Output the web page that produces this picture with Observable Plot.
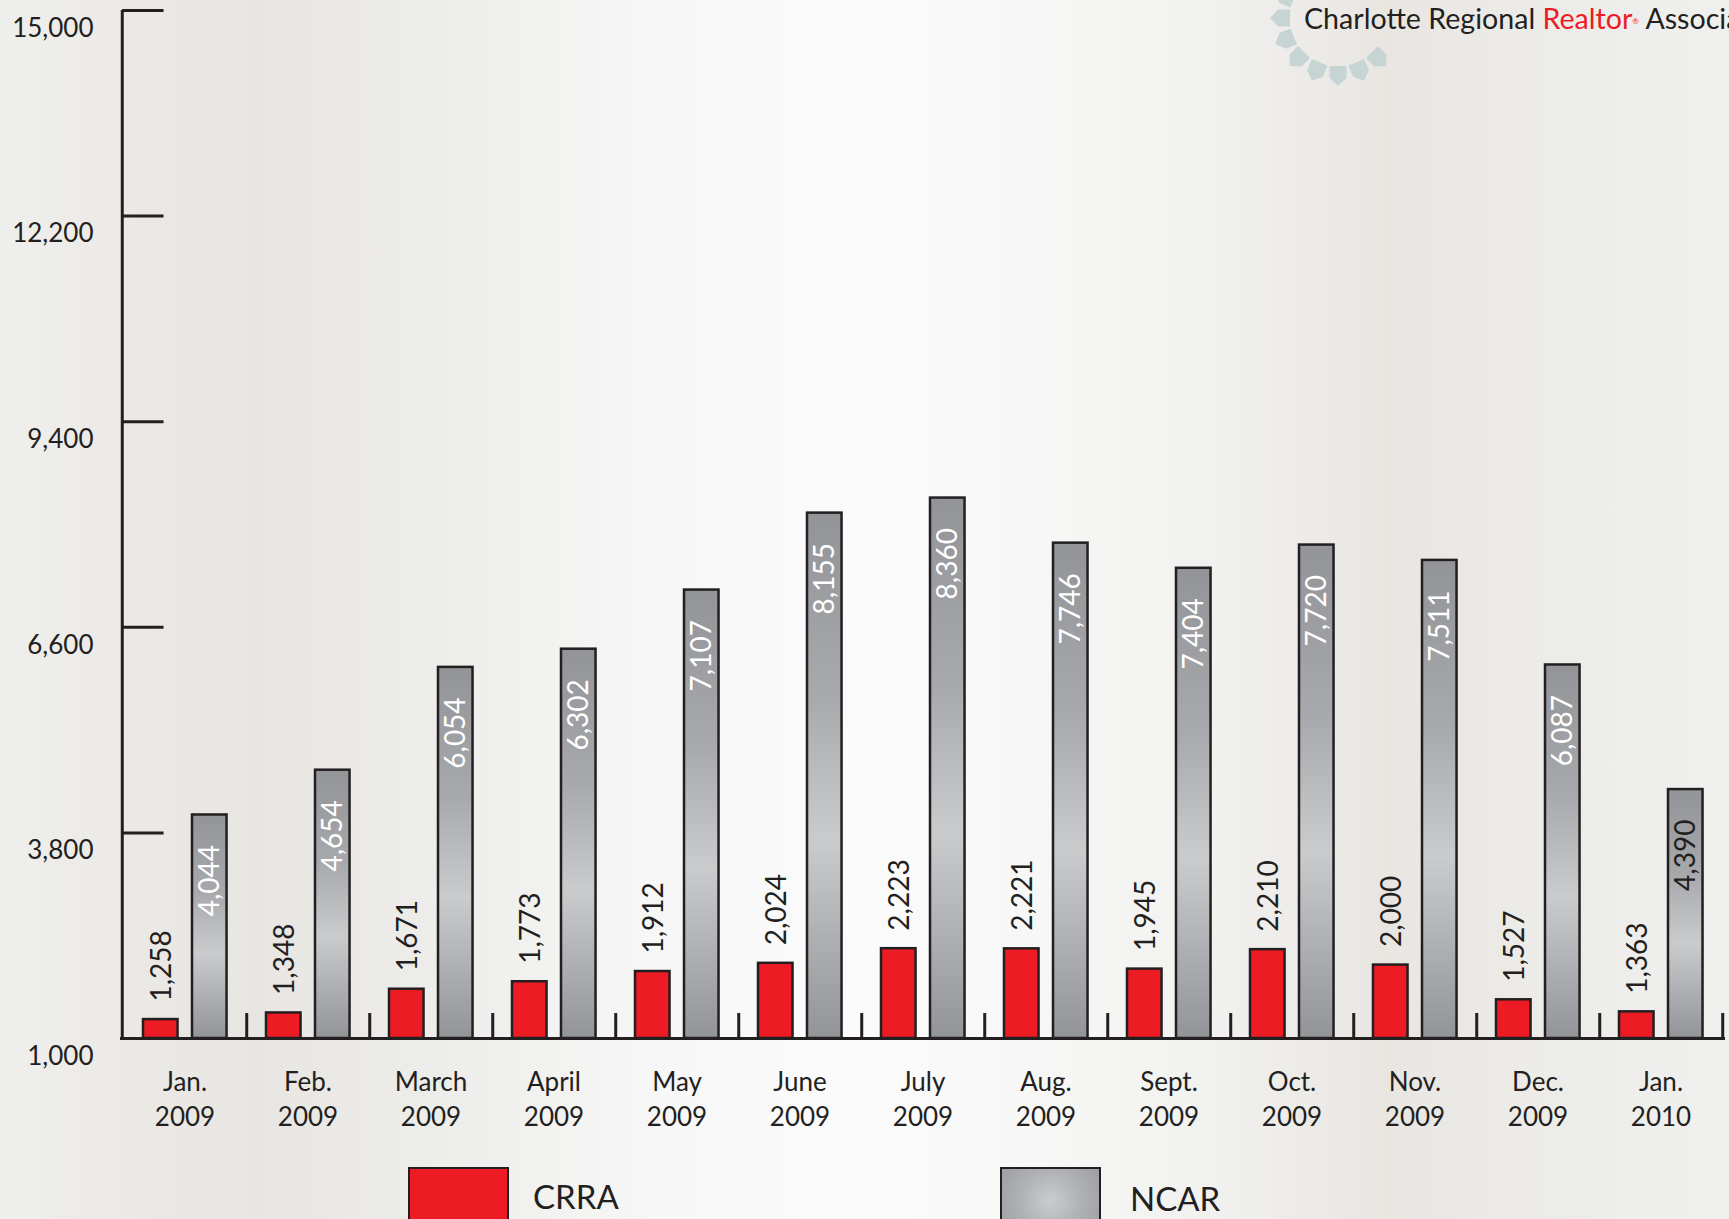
<!DOCTYPE html>
<html><head><meta charset="utf-8">
<script src="https://cdn.jsdelivr.net/npm/d3@7"></script>
<script src="https://cdn.jsdelivr.net/npm/@observablehq/plot@0.6"></script>
<style>
html,body{margin:0;padding:0;width:1729px;height:1219px;overflow:hidden;}
body{position:relative;font-family:Lato,sans-serif;color:#231f20;
background:linear-gradient(to right,#efefed 0%,#ebe9e6 8%,#e8e6e2 15%,#eeeeec 27%,#f7f7f7 38%,#fbfbfb 50%,#f6f6f5 62%,#f1f1f0 70%,#e9e6e2 80%,#ecebe8 88%,#f0f0ef 100%);}
#chart svg{display:block;overflow:visible;}
.lbox{position:absolute;top:1167px;width:97px;height:80px;border:2.5px solid #231f20;}
.ltext{position:absolute;font-size:33px;line-height:33px;}
#logo{position:absolute;left:1304px;top:4px;font-size:28.6px;line-height:29px;white-space:nowrap;color:#231f20;}
#logo .r{color:#ed1c24;}
#logo sup{font-size:8px;vertical-align:top;position:relative;top:3px;}
#ring{position:absolute;left:0;top:0;}
</style></head>
<body>
<svg id="ring" width="1729" height="120"></svg>
<div id="logo">Charlotte Regional <span class="r">Realtor<sup>®</sup></span> Association</div>
<div id="chart"></div>
<div class="lbox" style="left:408px;background:#ed1c24;"></div>
<div class="ltext" style="left:533px;top:1180px;">CRRA</div>
<div class="lbox" style="left:1000px;background:radial-gradient(circle at 50% 40%,#cbcccd 0%,#b0b1b4 45%,#97989c 100%);"></div>
<div class="ltext" style="left:1130px;top:1182px;">NCAR</div>
<script>
const months = ["Jan.\n2009","Feb.\n2009","March\n2009","April\n2009","May\n2009","June\n2009","July\n2009","Aug.\n2009","Sept.\n2009","Oct.\n2009","Nov.\n2009","Dec.\n2009","Jan.\n2010"];
const crra = [1258,1348,1671,1773,1912,2024,2223,2221,1945,2210,2000,1527,1363];
const ncar = [4044,4654,6054,6302,7107,8155,8360,7746,7404,7720,7511,6087,4390];
const yTicks = [1000,3800,6600,9400,12200,15000];

const rows = months.map((m,i)=>({month:m, crra:crra[i], ncar:ncar[i]}));
const W = 1729, H = 1150, ML = 120, MR = 4, MT = 10, MB = 112;
const bw = (W - ML - MR) / months.length;
const fmt = d3.format(",");
const dark = "#231f20";

const plot = Plot.plot({
  width: W, height: H, marginTop: MT, marginBottom: MB, marginLeft: ML, marginRight: MR,
  style: {background: "transparent", fontFamily: "Lato, sans-serif", color: dark},
  x: {domain: months, padding: 0, axis: null},
  y: {domain: [1000, 15000], axis: null},
  marks: [
    Plot.barY(rows, {x: "month", y1: 1000, y2: "crra", fill: "#ed1c24", stroke: dark, strokeWidth: 2.5, insetLeft: 20, insetRight: bw - 55}),
    Plot.barY(rows, {x: "month", y1: 1000, y2: "ncar", fill: "url(#gbar)", stroke: dark, strokeWidth: 2.5, insetLeft: 69, insetRight: bw - 104}),
    Plot.ruleY([1000], {stroke: dark, strokeWidth: 3}),
    Plot.ruleX([months[0]], {x: d => d, dx: -bw/2 - 1, y1: 1000, y2: 15000, stroke: dark, strokeWidth: 3}),
    Plot.tickY(yTicks.slice(1), {y: d => d, x: () => months[0], insetLeft: -1, insetRight: bw - 41, stroke: dark, strokeWidth: 3}),
    Plot.ruleX(months, {x: d => d, dx: bw/2, y1: 1000, y2: 1340, stroke: dark, strokeWidth: 3}),
    Plot.text(rows, {x: "month", y: "crra", text: d => fmt(d.crra), rotate: -90, textAnchor: "start", dx: 38.5 - bw/2, dy: -18, fontSize: 28, fill: dark}),
    Plot.text(rows, {x: "month", y: "ncar", text: d => fmt(d.ncar), rotate: -90, textAnchor: "end", dx: 87 - bw/2, dy: 30, fontSize: 28, fill: d => d.month === months[months.length-1] ? dark : "#ffffff"}),
    Plot.axisY({ticks: yTicks, tickFormat: fmt, tickSize: 0, tickPadding: 27, dy: 18, fontSize: 26, label: null, fill: dark}),
    Plot.axisX({tickSize: 0, tickPadding: 28, fontSize: 26, lineHeight: 1.33, label: null, fill: dark, tickFormat: d => d})
  ]
});

const ns = "http://www.w3.org/2000/svg";
const defs = document.createElementNS(ns, "defs");
defs.innerHTML = `<linearGradient id="gbar" x1="0" y1="0" x2="0" y2="1">
<stop offset="0" stop-color="#939498"/><stop offset="0.35" stop-color="#a8a9ac"/>
<stop offset="0.62" stop-color="#cacbcd"/><stop offset="1" stop-color="#939498"/></linearGradient>`;
plot.prepend(defs);
document.getElementById("chart").appendChild(plot);

// decorative logo ring
const ring = document.getElementById("ring");
const cx = 1338, cy = 18, r = 58;
for (let a = 45; a <= 202.5; a += 22.5) {
  const t = a * Math.PI / 180;
  const px = cx + r * Math.cos(t), py = cy + r * Math.sin(t);
  const p = document.createElementNS(ns, "polygon");
  p.setAttribute("points", "-10,-8.5 2,-8.5 10,0 2,8.5 -10,8.5");
  p.setAttribute("transform", `translate(${px},${py}) rotate(${a})`);
  p.setAttribute("fill", "#c6d4d4");
  ring.appendChild(p);
}
</script>
</body></html>
